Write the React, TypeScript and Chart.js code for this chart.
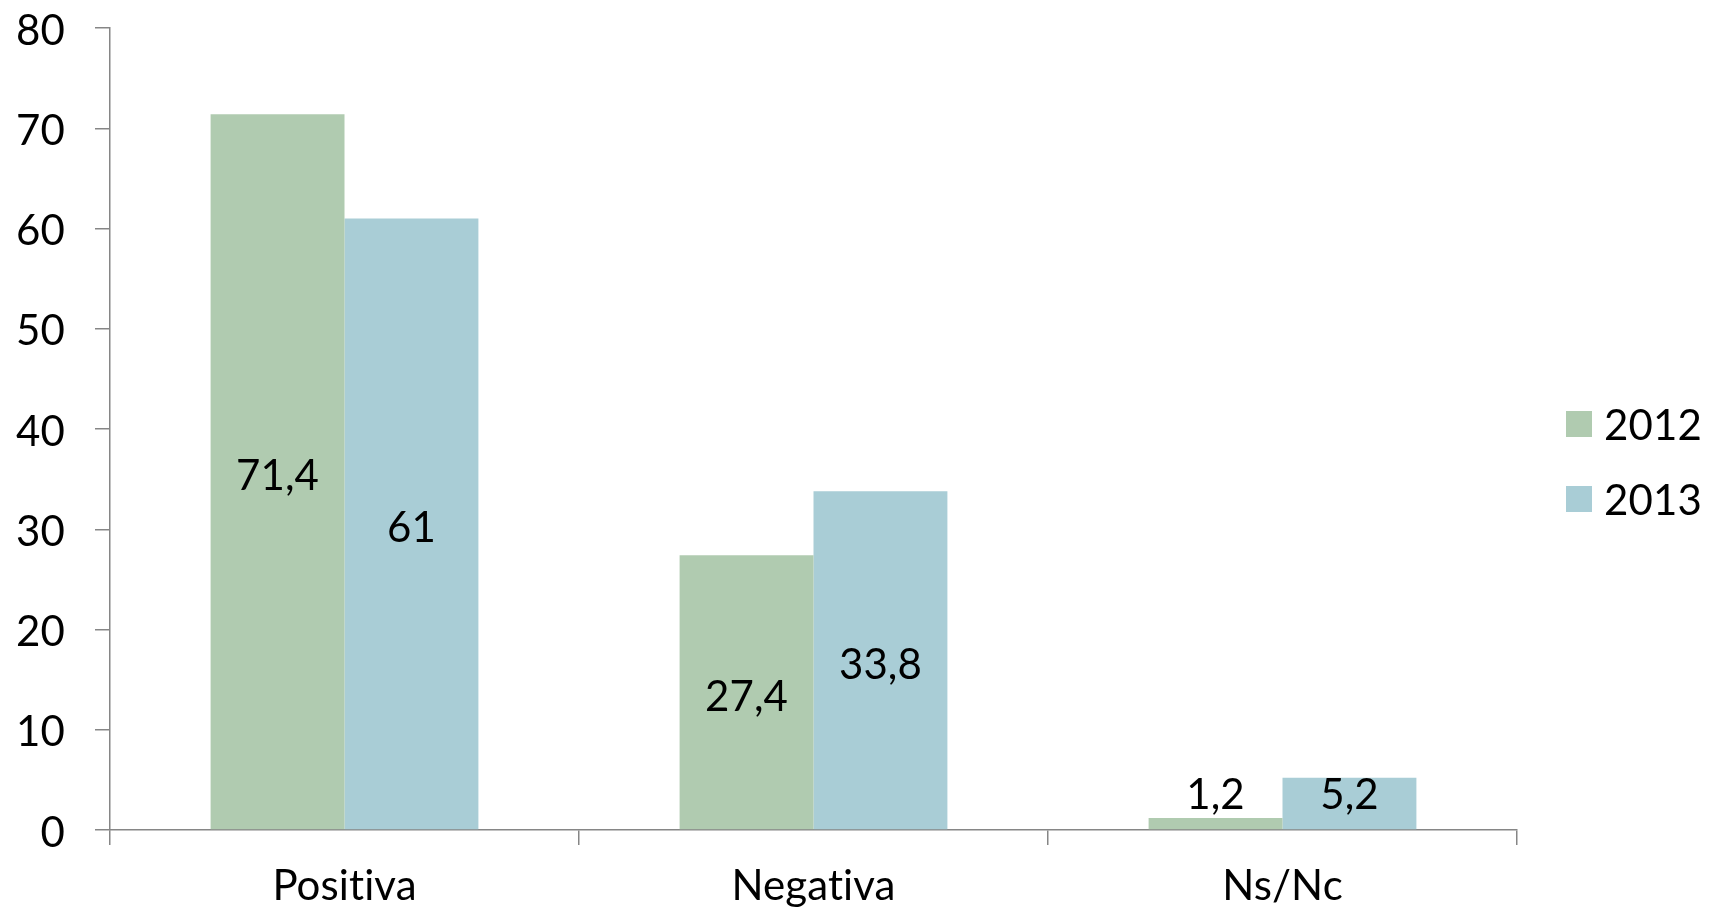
import React, { useEffect, useRef } from "react";
import { Chart, registerables } from "chart.js";

Chart.register(...registerables);

const categories = ["Positiva", "Negativa", "Ns/Nc"];
const series2012 = [71.4, 27.4, 1.2];
const series2013 = [61, 33.8, 5.2];
const seriesNames = ["2012", "2013"];
const seriesColors = ["#B0CBB0", "#A9CDD6"];
const yTicks = [0, 10, 20, 30, 40, 50, 60, 70, 80];

const FONT = "Lato";
const AXIS = "#868686";

const noLigatures = (chart: any) => {
  const ctx = chart.ctx as any;
  try {
    ctx.letterSpacing = "0.1px";
    ctx.textRendering = "optimizeSpeed";
  } catch (e) {}
};

const textPlugin = {
  id: "noLig",
  beforeUpdate: noLigatures,
  beforeLayout: noLigatures,
  beforeDraw: noLigatures,
};

const labelsPlugin = {
  id: "valueLabels",
  afterDatasetsDraw(chart: any) {
    const ctx = chart.ctx;
    ctx.save();
    ctx.font = `42px ${FONT}`;
    ctx.fillStyle = "#000";
    ctx.textAlign = "center";
    ctx.textBaseline = "middle";
    chart.data.datasets.forEach((ds: any, di: number) => {
      const meta = chart.getDatasetMeta(di);
      meta.data.forEach((bar: any, i: number) => {
        const v = ds.data[i];
        const center = (bar.y + bar.base) / 2;
        const y = Math.min(center, bar.base - 39);
        ctx.fillText(String(v).replace(".", ","), bar.x, y + 5);
      });
    });
    ctx.restore();
  },
};

const legendPlugin = {
  id: "sideLegend",
  afterDraw(chart: any) {
    const ctx = chart.ctx;
    ctx.save();
    ctx.font = `42px ${FONT}`;
    ctx.textAlign = "left";
    ctx.textBaseline = "middle";
    const x0 = chart.chartArea.right + 49;
    const yStart = 403;
    chart.data.datasets.forEach((ds: any, i: number) => {
      const y = yStart + i * 75;
      ctx.fillStyle = ds.backgroundColor;
      ctx.fillRect(x0, y, 26, 26);
      ctx.fillStyle = "#000";
      ctx.fillText(ds.label, x0 + 38, y + 15);
    });
    ctx.restore();
  },
};

export default function App() {
  const ref = useRef<HTMLCanvasElement>(null);
  useEffect(() => {
    if (!ref.current) return;
    const chart = new Chart(ref.current, {
      type: "bar",
      data: {
        labels: categories,
        datasets: [
          { label: seriesNames[0], data: series2012, backgroundColor: seriesColors[0] },
          { label: seriesNames[1], data: series2013, backgroundColor: seriesColors[1] },
        ],
      },
      options: {
        animation: false,
        responsive: true,
        maintainAspectRatio: false,
        layout: { padding: { top: 20, left: 0, right: 186, bottom: 0 }, autoPadding: false },
        datasets: { bar: { categoryPercentage: 0.571, barPercentage: 1 } },
        plugins: { legend: { display: false }, tooltip: { enabled: false } },
        scales: {
          x: {
            grid: { offset: true, drawOnChartArea: false, drawTicks: true, tickLength: 15, color: AXIS, lineWidth: 1.5 },
            border: { display: true, color: AXIS, width: 1.5 },
            ticks: { font: { family: FONT, size: 42 }, color: "#000", padding: 16 },
            afterFit: (s: any) => {
              s.height = 77;
              s.paddingLeft = 0;
              s.paddingRight = 0;
            },
          },
          y: {
            min: 0,
            max: 80,
            afterBuildTicks: (s: any) => { s.ticks = yTicks.map((v) => ({ value: v })); },
            grid: { drawOnChartArea: false, drawTicks: true, tickLength: 15, color: AXIS, lineWidth: 1.5 },
            border: { display: true, color: AXIS, width: 1.5 },
            ticks: { font: { family: FONT, size: 42 }, color: "#000", padding: 30, labelOffset: 3 },
            afterFit: (s: any) => {
              s.width = 102;
              s.paddingTop = 0;
              s.paddingBottom = 0;
            },
          },
        },
      },
      plugins: [textPlugin, labelsPlugin, legendPlugin],
    });
    return () => chart.destroy();
  }, []);
  return (
    <div style={{ width: "100%", height: "899px", position: "relative" }}>
      <canvas ref={ref} />
    </div>
  );
}
